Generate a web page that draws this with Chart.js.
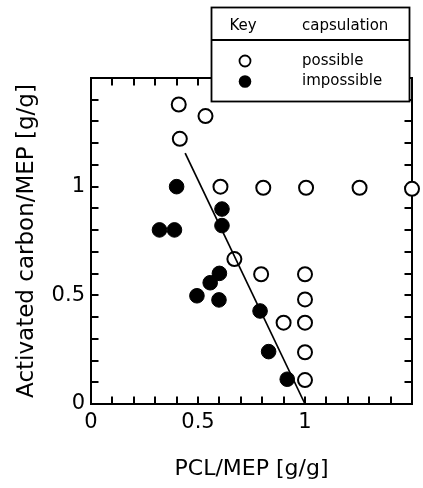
<!DOCTYPE html>
<html><head><meta charset="utf-8">
<script src="https://cdn.jsdelivr.net/npm/chart.js@4/dist/chart.umd.min.js"></script>
<style>html,body{margin:0;padding:0;background:#fff;overflow:hidden}#wrap{width:423px;height:488px;position:relative}</style>
</head><body><div id="wrap"><canvas id="c" width="423" height="488"></canvas></div>
<script>
// ---- data ----
const possibleX = [0.41, 0.535, 0.415, 0.605, 0.805, 1.005, 1.255, 1.5, 0.67, 0.795, 1.0, 1.0, 0.90, 1.0, 1.0, 1.0];
const possibleY = [1.378, 1.325, 1.22, 1.0, 0.995, 0.995, 0.995, 0.99, 0.667, 0.597, 0.597, 0.481, 0.374, 0.374, 0.238, 0.11];
const impossibleX = [0.40, 0.612, 0.612, 0.32, 0.39, 0.60, 0.557, 0.495, 0.598, 0.79, 0.83, 0.917];
const impossibleY = [1.0, 0.897, 0.821, 0.801, 0.801, 0.601, 0.558, 0.498, 0.479, 0.428, 0.241, 0.114];
const fitLineX = [0.44, 1.0];
const fitLineY = [1.154, 0.0];
const xTickValues = [0, 0.5, 1];
const xTickLabels = ['0', '0.5', '1'];
const yTickValues = [0, 0.5, 1];
const yTickLabels = ['0', '0.5', '1'];
const xTitle = 'PCL/MEP [g/g]';
const yTitle = 'Activated carbon/MEP [g/g]';
const legendHeader = ['Key', 'capsulation'];
const seriesNames = ['possible', 'impossible'];

const FONT = 'DejaVu Sans';
const toPts = (xs, ys) => xs.map((x, i) => ({x: x, y: ys[i]}));
const labelFor = (vals, labs) => (value) => {
  const i = vals.findIndex(v => Math.abs(v - value) < 1e-6);
  return i >= 0 ? labs[i] : '';
};

const framePlugin = {
  id: 'frame',
  beforeDatasetsDraw(chart) {
    const {ctx, chartArea: a, scales: {x, y}} = chart;
    ctx.save();
    ctx.strokeStyle = '#000';
    ctx.lineWidth = 2;
    ctx.beginPath();
    ctx.moveTo(a.left, a.top); ctx.lineTo(a.right, a.top);
    ctx.moveTo(a.right, a.top - 1); ctx.lineTo(a.right, a.bottom);
    const tl = 7.5;
    for (let i = 1; i < 15; i++) {
      const v = i / 10;
      const px = Math.round(x.getPixelForValue(v));
      ctx.moveTo(px, a.bottom); ctx.lineTo(px, a.bottom - tl);
      ctx.moveTo(px, a.top); ctx.lineTo(px, a.top + tl);
      const py = Math.round(y.getPixelForValue(v));
      ctx.moveTo(a.left, py); ctx.lineTo(a.left + tl, py);
      ctx.moveTo(a.right, py); ctx.lineTo(a.right - tl, py);
    }
    ctx.stroke();
    ctx.restore();
  }
};

const keyPlugin = {
  id: 'keybox',
  afterDraw(chart) {
    const ctx = chart.ctx;
    ctx.save();
    const L = 211.5, T = 7.5, W = 198, H = 94;
    ctx.fillStyle = '#fff';
    ctx.fillRect(L, T, W, H);
    ctx.strokeStyle = '#000';
    ctx.lineWidth = 1.8;
    ctx.strokeRect(L, T, W, H);
    ctx.beginPath();
    ctx.moveTo(L, 40); ctx.lineTo(L + W, 40);
    ctx.stroke();
    ctx.fillStyle = '#000';
    ctx.font = '15px "' + FONT + '"';
    ctx.textBaseline = 'middle';
    ctx.textAlign = 'center';
    ctx.fillText(legendHeader[0], 243, 26);
    ctx.textAlign = 'left';
    ctx.fillText(legendHeader[1], 302, 26);
    ctx.fillText(seriesNames[0], 302, 61);
    ctx.fillText(seriesNames[1], 302, 81);
    ctx.lineWidth = 1.8;
    ctx.beginPath(); ctx.arc(245, 61, 5.5, 0, Math.PI * 2);
    ctx.fillStyle = '#fff'; ctx.fill(); ctx.stroke();
    ctx.beginPath(); ctx.arc(245, 81.5, 6.3, 0, Math.PI * 2);
    ctx.fillStyle = '#000'; ctx.fill();
    ctx.restore();
  }
};

new Chart(document.getElementById('c'), {
  type: 'scatter',
  data: {
    datasets: [
      {
        type: 'line', label: 'fit', data: toPts(fitLineX, fitLineY), order: 0,
        showLine: true, pointRadius: 0, borderColor: '#000', borderWidth: 1.7, fill: false, clip: false
      },
      {
        label: seriesNames[0], data: toPts(possibleX, possibleY), order: 1,
        pointRadius: 7, pointBackgroundColor: '#fff', pointBorderColor: '#000', pointBorderWidth: 2, clip: false
      },
      {
        label: seriesNames[1], data: toPts(impossibleX, impossibleY), order: 2,
        pointRadius: 7.3, pointBackgroundColor: '#000', pointBorderColor: '#000', pointBorderWidth: 1, clip: false
      }
    ]
  },
  options: {
    responsive: false,
    animation: false,
    devicePixelRatio: 1,
    layout: {padding: {top: 78, right: 11, left: 0, bottom: 0}},
    plugins: {legend: {display: false}, tooltip: {enabled: false}},
    scales: {
      x: {
        type: 'linear', min: 0, max: 1.5, position: 'bottom',
        grid: {display: false, drawTicks: false, tickLength: 0},
        border: {display: true, color: '#000', width: 2},
        ticks: {stepSize: 0.5, color: '#000', font: {family: FONT, size: 21}, padding: 6,
                maxRotation: 0, autoSkip: false, callback: labelFor(xTickValues, xTickLabels)},
        title: {display: true, text: xTitle, color: '#000', font: {family: FONT, size: 22},
                padding: {top: 0, bottom: 6}},
        afterFit(s) { s.height = 84; }
      },
      y: {
        type: 'linear', min: 0, max: 1.5, position: 'left',
        grid: {display: false, drawTicks: false, tickLength: 0},
        border: {display: true, color: '#000', width: 2},
        ticks: {stepSize: 0.5, color: '#000', font: {family: FONT, size: 21}, padding: 6,
                autoSkip: false, callback: labelFor(yTickValues, yTickLabels)},
        title: {display: true, text: yTitle, color: '#000', font: {family: FONT, size: 23},
                padding: {top: 13, bottom: 0}},
        afterFit(s) { s.width = 91; }
      }
    }
  },
  plugins: [framePlugin, keyPlugin]
});
</script></body></html>
